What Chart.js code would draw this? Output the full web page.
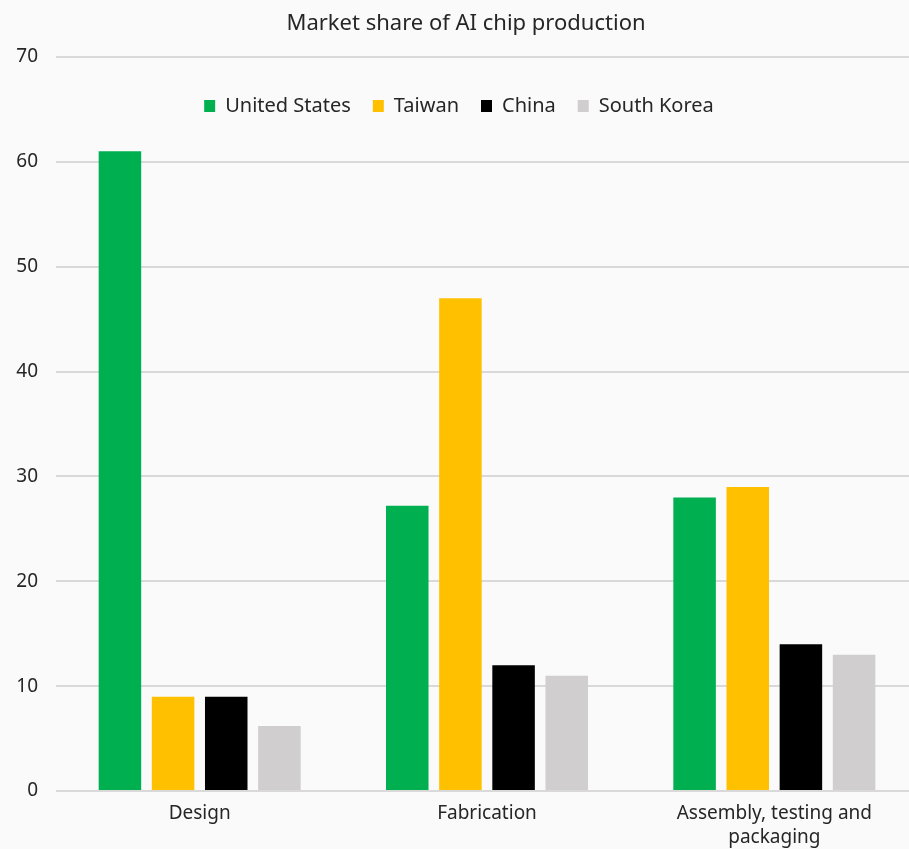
<!DOCTYPE html>
<html>
<head>
<meta charset="utf-8">
<script src="https://cdn.jsdelivr.net/npm/chart.js@4/dist/chart.umd.min.js"></script>
<style>
  html, body { margin: 0; padding: 0; background: #fafafa; overflow: hidden; }
  #wrap { width: 920px; height: 849px; position: relative; }
</style>
</head>
<body>
<div id="wrap"><canvas id="c"></canvas></div>
<script>
const categories = ['Design', 'Fabrication', ['Assembly, testing and', 'packaging']];
const unitedStates = [61, 27.2, 28];
const taiwan = [9, 47, 29];
const china = [9, 12, 14];
const southKorea = [6.2, 11, 13];
const yTicks = [0, 10, 20, 30, 40, 50, 60, 70];

const FONT = '"Noto Sans", "Open Sans", sans-serif';
const TEXT = '#262626';

function ds(label, data, color) {
  return { label, data, backgroundColor: color, borderWidth: 0,
           categoryPercentage: 0.74, barPercentage: 0.8 };
}

// Legend drawn horizontally inside the chart area, below the top gridline
const legendInArea = {
  id: 'legendInArea',
  beforeUpdate(chart) {
    if (chart.legend) chart.legend.isHorizontal = () => true;
  },
  afterLayout(chart) {
    const lg = chart.legend, ca = chart.chartArea;
    if (!lg) return;
    const w = ca.right - ca.left;
    const center = ca.left + w / 2 - 28;
    lg.left = center - w / 2;
    lg.right = center + w / 2;
    lg.width = w;
    lg.top = ca.top;
  }
};

new Chart(document.getElementById('c'), {
  type: 'bar',
  data: {
    labels: categories,
    datasets: [
      ds('United States', unitedStates, '#00B050'),
      ds('Taiwan', taiwan, '#FFC000'),
      ds('China', china, '#000000'),
      ds('South Korea', southKorea, '#D0CECE')
    ]
  },
  plugins: [legendInArea],
  options: {
    responsive: true,
    maintainAspectRatio: false,
    animation: false,
    layout: { padding: { left: 14, right: 2, top: 0, bottom: 0 } },
    plugins: {
      title: {
        display: true,
        text: 'Market share of AI chip production',
        color: TEXT,
        font: { family: FONT, size: 22, weight: 'normal', lineHeight: 1.2 },
        padding: { top: 11, bottom: 19.6 }
      },
      legend: {
        position: 'chartArea',
        align: 'center',
        title: { display: true, text: ' ', font: { size: 10, lineHeight: 1 }, padding: { top: 4, bottom: 3 } },
        labels: {
          boxWidth: 11, boxHeight: 12, padding: 22,
          color: TEXT,
          font: { family: FONT, size: 20 }
        }
      },
      tooltip: { enabled: false }
    },
    scales: {
      x: {
        grid: { display: false, drawTicks: false },
        border: { display: false },
        afterFit: (s) => { s.height = 58; },
        ticks: { color: TEXT, font: { family: FONT, size: 19, lineHeight: 1.25 }, padding: 11, maxRotation: 0, autoSkip: false }
      },
      y: {
        min: 0, max: 70,
        afterBuildTicks: (s) => { s.ticks = yTicks.map(v => ({ value: v })); },
        afterFit: (s) => { s.width = 42; },
        grid: { color: '#D9D9D9', lineWidth: 2, drawTicks: false },
        border: { display: false },
        ticks: { color: TEXT, font: { family: FONT, size: 19 }, padding: 18 }
      }
    }
  }
});
</script>
</body>
</html>
